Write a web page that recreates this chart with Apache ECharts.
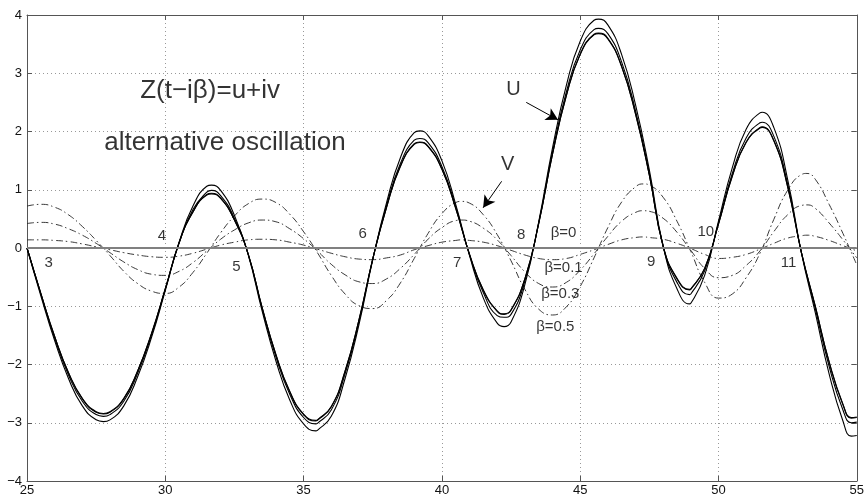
<!DOCTYPE html>
<html>
<head>
<meta charset="utf-8">
<script src="https://cdn.jsdelivr.net/npm/echarts@6/dist/echarts.min.js"></script>
<style>
html,body{margin:0;padding:0;background:#fff;}
#main{width:867px;height:497px;}
</style>
</head>
<body>
<div id="main"></div>
<script>
/*
* sample points along t for u (every 0.5, plus the turning points)
*/
var tU = [25,25.5,26,26.5,27,27.5,27.76,28,28.5,29,29.5,30,30.5,31,31.5,31.67,32,32.5,33,33.5,34,34.5,35,35.44,
	35.5,36,36.5,37,37.5,38,38.5,39,39.2,39.5,40,40.5,41,41.5,42,42.25,42.5,43,43.5,44,44.5,45,45.5,45.66,
	46,46.5,47,47.5,48,48.5,48.95,49,49.5,50,50.5,51,51.5,51.58,52,52.5,53,53.5,54,54.5,54.8,55];
// sample points along t for v
var tV = [25,25.5,26,26.5,27,27.5,28,28.5,29,29.5,30,30.5,31,31.5,32,32.5,33,33.5,34,34.5,35,
	35.5,36,36.5,37,37.5,38,38.5,39,39.5,40,40.5,40.7,41,41.5,42,42.5,43,43.5,44,44.5,45,
	45.5,46,46.5,47,47.3,47.5,48,48.5,49,49.5,50,50.5,51,51.5,52,52.5,53,53.2,53.5,54,54.5,55];

// real part u, beta = 0 / 0.1 / 0.3 / 0.5
var u00 = [0,-0.78,-1.52,-2.14,-2.58,-2.81,-2.84,-2.81,-2.58,-2.11,-1.47,-0.70,
	0.09,0.62,0.91,0.93,0.85,0.48,
	-0.11,-1.02,-1.83,-2.46,-2.85,-2.96,-2.95,-2.72,-2.11,-1.24,-0.19,
	0.70,1.40,1.78,1.81,1.74,1.35,0.68,
	-0.11,-0.72,-1.08,-1.13,-1.06,-0.53,
	0.42,1.61,2.61,3.32,3.66,3.68,3.59,3.11,2.30,1.25,0.03,
	-0.52,-0.71,-0.70,-0.35,
	0.41,1.23,1.81,2.06,2.07,1.84,1.05,
	-0.08,-1.00,-1.95,-2.68,-2.91,-2.90];
var u01 = [0,-0.78,-1.52,-2.14,-2.59,-2.82,-2.85,-2.82,-2.59,-2.11,-1.47,-0.70,
	0.09,0.62,0.92,0.94,0.86,0.48,
	-0.11,-1.02,-1.83,-2.47,-2.86,-2.97,-2.96,-2.73,-2.12,-1.24,-0.19,
	0.70,1.41,1.79,1.82,1.75,1.36,0.68,
	-0.11,-0.73,-1.09,-1.14,-1.07,-0.53,
	0.42,1.61,2.62,3.33,3.67,3.69,3.60,3.12,2.31,1.25,0.03,
	-0.53,-0.72,-0.71,-0.35,
	0.41,1.24,1.82,2.07,2.08,1.85,1.06,
	-0.08,-1.00,-1.96,-2.69,-2.92,-2.91];
var u03 = [0,-0.79,-1.55,-2.18,-2.63,-2.86,-2.89,-2.86,-2.63,-2.15,-1.50,-0.71,
	0.09,0.66,0.96,0.99,0.90,0.51,
	-0.11,-1.04,-1.87,-2.51,-2.91,-3.02,-3.01,-2.78,-2.16,-1.27,-0.19,
	0.73,1.45,1.85,1.88,1.81,1.40,0.71,
	-0.12,-0.77,-1.16,-1.19,-1.14,-0.57,
	0.43,1.65,2.68,3.40,3.75,3.77,3.68,3.19,2.36,1.28,0.03,
	-0.59,-0.80,-0.79,-0.39,
	0.43,1.28,1.89,2.15,2.16,1.92,1.10,
	-0.08,-1.04,-2.03,-2.78,-3.00,-2.99];
var u05 = [0,-0.82,-1.59,-2.24,-2.71,-2.95,-2.98,-2.95,-2.71,-2.21,-1.54,-0.73,
	0.10,0.72,1.06,1.08,0.99,0.56,
	-0.12,-1.08,-1.94,-2.61,-3.02,-3.14,-3.13,-2.89,-2.24,-1.32,-0.20,
	0.78,1.55,1.98,2.01,1.93,1.50,0.75,
	-0.13,-0.86,-1.29,-1.35,-1.27,-0.63,
	0.45,1.72,2.79,3.55,3.91,3.93,3.83,3.32,2.46,1.34,0.03,
	-0.70,-0.96,-0.95,-0.47,
	0.46,1.38,2.04,2.32,2.33,2.07,1.18,
	-0.09,-1.11,-2.16,-2.97,-3.23,-3.22];

// imaginary part v, beta = 0.1 / 0.3 / 0.5 (beta = 0 is the zero line)
var v01 = [0.14,0.14,0.13,0.11,0.07,0.02,
	-0.03,-0.08,-0.12,-0.15,-0.16,-0.14,-0.09,-0.02,
	0.05,0.10,0.14,0.15,0.14,0.10,0.05,
	-0.02,-0.09,-0.15,-0.19,-0.20,-0.17,-0.12,-0.03,
	0.04,0.10,0.13,0.14,0.13,0.10,0.04,
	-0.04,-0.12,-0.18,-0.20,-0.18,-0.11,-0.03,
	0.06,0.14,0.18,0.19,0.18,0.15,0.08,
	-0.01,-0.11,-0.18,-0.16,-0.11,-0.02,
	0.08,0.17,0.21,0.22,0.20,0.13,0.04,-0.05];
var v03 = [0.42,0.44,0.41,0.33,0.22,0.08,
	-0.08,-0.24,-0.37,-0.45,-0.47,-0.40,-0.25,-0.05,
	0.15,0.31,0.43,0.48,0.45,0.33,0.16,
	-0.05,-0.28,-0.46,-0.58,-0.61,-0.53,-0.35,-0.11,
	0.15,0.35,0.47,0.48,0.46,0.34,0.14,
	-0.13,-0.41,-0.61,-0.67,-0.59,-0.38,-0.10,
	0.20,0.46,0.61,0.64,0.63,0.51,0.27,
	-0.04,-0.35,-0.51,-0.47,-0.30,-0.05,
	0.28,0.57,0.73,0.74,0.68,0.43,0.14,-0.17];
var v05 = [0.72,0.75,0.70,0.57,0.37,0.13,
	-0.13,-0.40,-0.61,-0.74,-0.78,-0.67,-0.42,-0.09,
	0.26,0.55,0.76,0.84,0.78,0.58,0.28,
	-0.08,-0.47,-0.79,-0.99,-1.04,-0.90,-0.60,-0.18,
	0.25,0.59,0.78,0.80,0.77,0.57,0.23,
	-0.22,-0.71,-1.05,-1.15,-1.01,-0.66,-0.17,
	0.35,0.79,1.05,1.10,1.08,0.87,0.46,
	-0.06,-0.59,-0.86,-0.79,-0.51,-0.09,
	0.49,0.99,1.26,1.28,1.18,0.75,0.25,-0.29];

var xTicks = [25,30,35,40,45,50,55];
var yTicks = [-4,-3,-2,-1,0,1,2,3,4];

// text notes, anchored in data coords
var notes = [
	{text:'Z(t\u2212i\u03b2)=u+iv', at:[31.62,2.70], size:26},
	{text:'alternative oscillation', at:[32.16,1.81], size:26},
	{text:'U', at:[42.59,2.72], size:20},
	{text:'V', at:[42.38,1.43], size:20},
	{text:'3', at:[25.78,-0.25], size:15},
	{text:'4', at:[29.88,0.20], size:15},
	{text:'5', at:[32.57,-0.33], size:15},
	{text:'6', at:[37.14,0.24], size:15},
	{text:'7', at:[40.55,-0.25], size:15},
	{text:'8', at:[42.87,0.23], size:15},
	{text:'9', at:[47.57,-0.23], size:15},
	{text:'10', at:[49.54,0.27], size:15},
	{text:'11', at:[52.53,-0.25], size:15},
	{text:'\u03b2=0', at:[44.40,0.26], size:15},
	{text:'\u03b2=0.1', at:[44.40,-0.34], size:15},
	{text:'\u03b2=0.3', at:[44.28,-0.78], size:15},
	{text:'\u03b2=0.5', at:[44.10,-1.35], size:15}
];
// arrows: [from, to]
var arrows = [
	[[43.05,2.50],[44.20,2.20]],
	[[42.16,1.145],[41.49,0.69]]
];

var FONT = '"Liberation Sans", Arial, Helvetica, sans-serif';

function pairs(ts, ys){
	return ts.map(function(t, i){ return [t, ys[i]]; });
}
function minusFmt(v){
	return String(v).replace('-', '\u2212');
}

function uLine(name, ys){
	return {
		name: name, type: 'line', data: pairs(tU, ys), smooth: 0.5,
		symbol: 'none', z: 3,
		lineStyle: {color: '#000', width: 1.1}
	};
}
function vLine(name, ys){
	return {
		name: name, type: 'line', data: pairs(tV, ys), smooth: 0.5,
		symbol: 'none', z: 2,
		lineStyle: {color: '#222', width: 0.9, type: [7, 3, 1.5, 3]}
	};
}

var axisGray = '#555';
var option = {
	animation: false,
	backgroundColor: '#fff',
	textStyle: {fontFamily: FONT},
	grid: {left: 27, right: 3, top: 15, bottom: 15, containLabel: false},
	xAxis: [
		{
			type: 'value', min: 25, max: 55, interval: 5,
			axisLine: {onZero: false, lineStyle: {color: axisGray, width: 1}},
			axisTick: {inside: true, length: 5, lineStyle: {color: axisGray}},
			axisLabel: {color: '#111', fontSize: 13, margin: 3, fontFamily: FONT,
				formatter: function(v){ return xTicks.indexOf(v) >= 0 ? minusFmt(v) : ''; }},
			splitLine: {show: true, lineStyle: {color: '#999', type: [1, 3], width: 1}}
		},
		{
			type: 'value', position: 'top', min: 25, max: 55, interval: 5,
			axisLine: {onZero: false, lineStyle: {color: axisGray, width: 1}},
			axisTick: {inside: true, length: 5, lineStyle: {color: axisGray}},
			axisLabel: {show: false}, splitLine: {show: false}
		}
	],
	yAxis: [
		{
			type: 'value', min: -4, max: 4, interval: 1,
			axisLine: {onZero: false, lineStyle: {color: axisGray, width: 1}},
			axisTick: {inside: true, length: 5, lineStyle: {color: axisGray}},
			axisLabel: {color: '#111', fontSize: 13, margin: 5, fontFamily: FONT,
				formatter: function(v){ return yTicks.indexOf(v) >= 0 ? minusFmt(v) : ''; }},
			splitLine: {show: true, lineStyle: {color: '#999', type: [1, 3], width: 1}}
		},
		{
			type: 'value', position: 'right', min: -4, max: 4, interval: 1,
			axisLine: {onZero: false, lineStyle: {color: axisGray, width: 1}},
			axisTick: {inside: true, length: 5, lineStyle: {color: axisGray}},
			axisLabel: {show: false}, splitLine: {show: false}
		}
	],
	series: [
		vLine('v 0.1', v01),
		vLine('v 0.3', v03),
		vLine('v 0.5', v05),
		{
			name: 'v 0', type: 'line', data: [], z: 2,
			markLine: {
				silent: true, symbol: 'none', label: {show: false},
				lineStyle: {color: '#808080', width: 2, type: 'solid'},
				data: [{yAxis: 0}]
			}
		},
		uLine('u 0', u00),
		uLine('u 0.1', u01),
		uLine('u 0.3', u03),
		uLine('u 0.5', u05),
		{
			name: 'arrows', type: 'line', data: [], z: 4,
			markLine: {
				silent: true, symbol: ['none', 'arrow'], symbolSize: [10, 12],
				label: {show: false},
				lineStyle: {color: '#000', width: 1, type: 'solid'},
				data: arrows.map(function(a){ return [{coord: a[0]}, {coord: a[1]}]; })
			}
		},
		{
			name: 'notes', type: 'scatter', z: 5, silent: true,
			symbolSize: 1, itemStyle: {color: 'rgba(0,0,0,0)'},
			data: notes.map(function(n){
				return {
					value: n.at,
					label: {show: true, position: 'inside', formatter: n.text,
						fontSize: n.size, color: '#000', textBorderWidth: 0,
						fontFamily: FONT}
				};
			})
		}
	]
};

var chart = echarts.init(document.getElementById('main'));
chart.setOption(option);
</script>
</body>
</html>
